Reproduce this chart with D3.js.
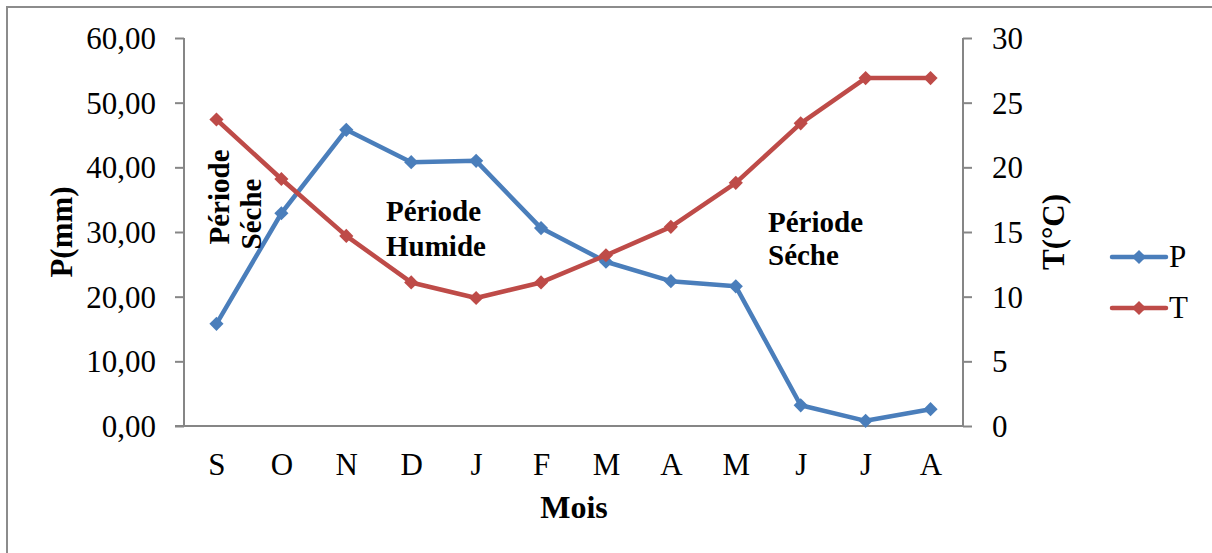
<!DOCTYPE html>
<html>
<head>
<meta charset="utf-8">
<script src="https://cdn.jsdelivr.net/npm/d3@7"></script>
<style>
  html, body { margin: 0; padding: 0; background: #fff; }
  svg { display: block; }
  text { font-family: "Liberation Serif", "Times New Roman", serif; fill: #000; }
</style>
</head>
<body>
<div id="chart"></div>
<script>
const months = ["S", "O", "N", "D", "J", "F", "M", "A", "M", "J", "J", "A"];
const precip = [15.8, 32.9, 45.8, 40.8, 41.0, 30.6, 25.4, 22.4, 21.6, 3.2, 0.8, 2.6];
const temp = [23.7, 19.1, 14.7, 11.1, 9.9, 11.1, 13.2, 15.4, 18.8, 23.4, 26.9, 26.9];
const leftTicks = [0, 10, 20, 30, 40, 50, 60];
const rightTicks = [0, 5, 10, 15, 20, 25, 30];
const seriesNames = ["P", "T"];

const W = 1212, H = 553;
const colors = { P: "#4A7EBB", T: "#BE4B48" };
const axisColor = "#868686";

const svg = d3.select("#chart").append("svg").attr("width", W).attr("height", H);

// outer frame
svg.append("rect").attr("x", 7).attr("y", 7).attr("width", 1400).attr("height", 800)
  .attr("fill", "none").attr("stroke", "#8c8c8c").attr("stroke-width", 2);

const plot = { left: 184, right: 963, top: 38, bottom: 426 };

const x = d3.scalePoint().domain(d3.range(months.length)).range([plot.left, plot.right]).padding(0.5);
const yL = d3.scaleLinear().domain([0, 60]).range([plot.bottom, plot.top]);
const yR = d3.scaleLinear().domain([0, 30]).range([plot.bottom, plot.top]);

const fmtL = v => d3.format(".2f")(v).replace(".", ",");
const tickFont = "31px";

// left axis
const gL = svg.append("g").attr("transform", `translate(${plot.left},0)`)
  .call(d3.axisLeft(yL).tickValues(leftTicks).tickFormat(fmtL).tickSize(9).tickPadding(19));
// right axis
const gR = svg.append("g").attr("transform", `translate(${plot.right},0)`)
  .call(d3.axisRight(yR).tickValues(rightTicks).tickSize(9).tickPadding(20));
[gL, gR].forEach(g => {
  g.select(".domain").attr("stroke", axisColor).attr("stroke-width", 2)
    .attr("d", `M0,${plot.top}V${plot.bottom}`);
  g.selectAll(".tick line").attr("stroke", axisColor).attr("stroke-width", 2);
  g.selectAll(".tick text").style("font-family", '"Liberation Serif", serif').style("font-size", tickFont)
    .attr("fill", "#000").attr("dy", "0.34em");
});

// bottom axis
const gB = svg.append("g").attr("transform", `translate(0,${plot.bottom})`)
  .call(d3.axisBottom(x).tickSize(0).tickPadding(0).tickFormat(i => months[i]));
gB.select(".domain").attr("stroke", axisColor).attr("stroke-width", 2).attr("d", `M${plot.left - 9},0H${plot.right}`);
gB.selectAll(".tick text").style("font-family", '"Liberation Serif", serif').style("font-size", tickFont)
  .attr("fill", "#000").attr("y", 49).attr("dy", 0);

// axis titles
svg.append("text").attr("transform", `translate(72,232) rotate(-90)`).attr("text-anchor", "middle")
  .style("font-size", "31px").style("font-weight", "bold").text("P(mm)");
svg.append("text").attr("transform", `translate(1064,232) rotate(-90)`).attr("text-anchor", "middle")
  .style("font-size", "31px").style("font-weight", "bold").text("T(°C)");
svg.append("text").attr("x", 574).attr("y", 518).attr("text-anchor", "middle")
  .style("font-size", "32px").style("font-weight", "bold").text("Mois");

// series
const diamond = d3.symbol().type(d3.symbolSquare).size(100);
function drawSeries(values, scale, color) {
  const line = d3.line().x((d, i) => x(i)).y(d => scale(d));
  svg.append("path").datum(values).attr("d", line).attr("fill", "none")
    .attr("stroke", color).attr("stroke-width", 4.5).attr("stroke-linejoin", "round");
  svg.append("g").selectAll("path").data(values).join("path")
    .attr("d", diamond).attr("fill", color)
    .attr("transform", (d, i) => `translate(${x(i)},${scale(d)}) rotate(45)`);
}
drawSeries(precip, yL, colors.P);
drawSeries(temp, yR, colors.T);

// annotations
const ann = svg.append("g").style("font-size", "29px").style("font-weight", "bold");
ann.append("text").attr("transform", "translate(229,197) rotate(-90)").attr("text-anchor", "middle").text("Période");
ann.append("text").attr("transform", "translate(261,214) rotate(-90)").attr("text-anchor", "middle").text("Séche");
ann.append("text").attr("x", 386).attr("y", 221).text("Période");
ann.append("text").attr("x", 386).attr("y", 256).text("Humide");
ann.append("text").attr("x", 768).attr("y", 232).text("Période");
ann.append("text").attr("x", 768).attr("y", 265).text("Séche");

// legend
const legY = [257, 308];
seriesNames.forEach((name, k) => {
  const g = svg.append("g");
  g.append("line").attr("x1", 1112).attr("x2", 1166).attr("y1", legY[k]).attr("y2", legY[k])
    .attr("stroke", colors[name]).attr("stroke-width", 4.5).attr("stroke-linecap", "round");
  g.append("path").attr("d", diamond).attr("fill", colors[name])
    .attr("transform", `translate(1139,${legY[k]}) rotate(45)`);
  g.append("text").attr("x", 1169).attr("y", legY[k] + 10).style("font-size", "31px").text(name);
});
</script>
</body>
</html>
